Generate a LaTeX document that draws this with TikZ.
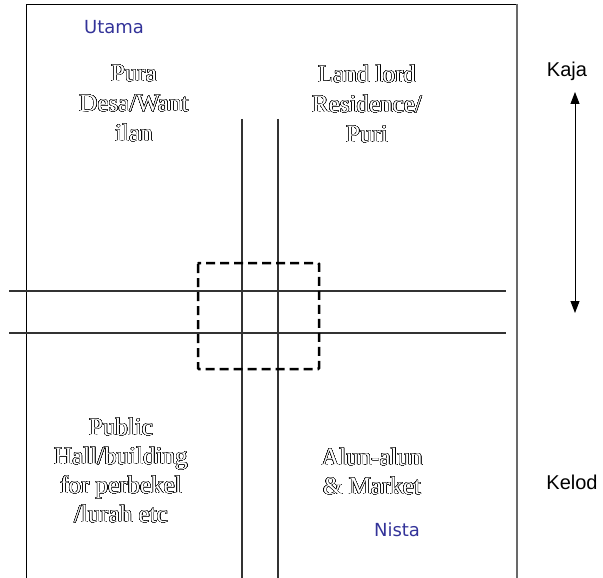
\documentclass[tikz,border=0pt]{standalone}
\usepackage{fontspec}
\setmainfont{Liberation Serif}
\setsansfont{Liberation Sans}
\newfontfamily\zonefont{DejaVu Sans}
\usepackage[copies]{contour}
\contourlength{0.4pt}
\contournumber{32}
\usetikzlibrary{arrows.meta}
\definecolor{zoneblue}{RGB}{51,51,153}
\definecolor{edgegray}{RGB}{105,105,105}
\newcommand{\hollow}[1]{\contour{black}{#1}}

\begin{document}
\begin{tikzpicture}[x=1pt,y=-1pt,
  area/.style={align=center,anchor=north,inner sep=0pt,text=white,
    font=\fontsize{25}{30}\selectfont},
  zone/.style={text=zoneblue,inner sep=0pt,font=\zonefont\fontsize{18}{22}\selectfont},
  wind/.style={inner sep=0pt,font=\sffamily\fontsize{20}{24}\selectfont},
  road/.style={draw=black!80,line width=1.1pt},
  centre/.style={draw,line width=2.5pt,dash pattern=on 9pt off 5pt,rounded corners=1pt}]
  \useasboundingbox (0,0) rectangle (603,578);
  \draw[line width=.9pt] (26,578) -- (26,4) -- (517,4);
  \draw[edgegray,line width=1.6pt] (517,4) -- (517,578);
  \draw[road] (242,119) -- (242,578);
  \draw[road] (278,119) -- (278,578);
  \draw[road] (9,291) -- (506,291);
  \draw[road] (9,333) -- (506,333);
  \draw[centre] (198,263) rectangle (319,369);
  \node[zone] (utama) at (114,27) {Utama};
  \node[zone] (nista) at (397,530) {Nista};
  \node[area] (pura) at (134,65) {\hollow{Pura}\\\hollow{Desa/Want}\\\hollow{ilan}};
  \node[area] (puri) at (367,65) {\hollow{Land lord}\\\hollow{Residence/}\\\hollow{Puri}};
  \node[area,font=\fontsize{25}{29}\selectfont] (hall) at (121,418) {\hollow{Public}\\\hollow{Hall/building}\\\hollow{for perbekel}\\\hollow{/lurah etc}};
  \node[area,font=\fontsize{25}{29}\selectfont] (market) at (372,448) {\hollow{Alun-alun}\\\hollow{\& Market}};
  \node[wind] (kaja) at (567,71) {Kaja};
  \node[wind] (kelod) at (572,482) {Kelod};
  \coordinate (up) at (575,92);
  \coordinate (down) at (575,313);
  \draw[line width=.9pt,{Triangle[width=9pt,length=12pt]}-{Triangle[width=9pt,length=12pt]}] (up) -- (down);
\end{tikzpicture}
\end{document}
